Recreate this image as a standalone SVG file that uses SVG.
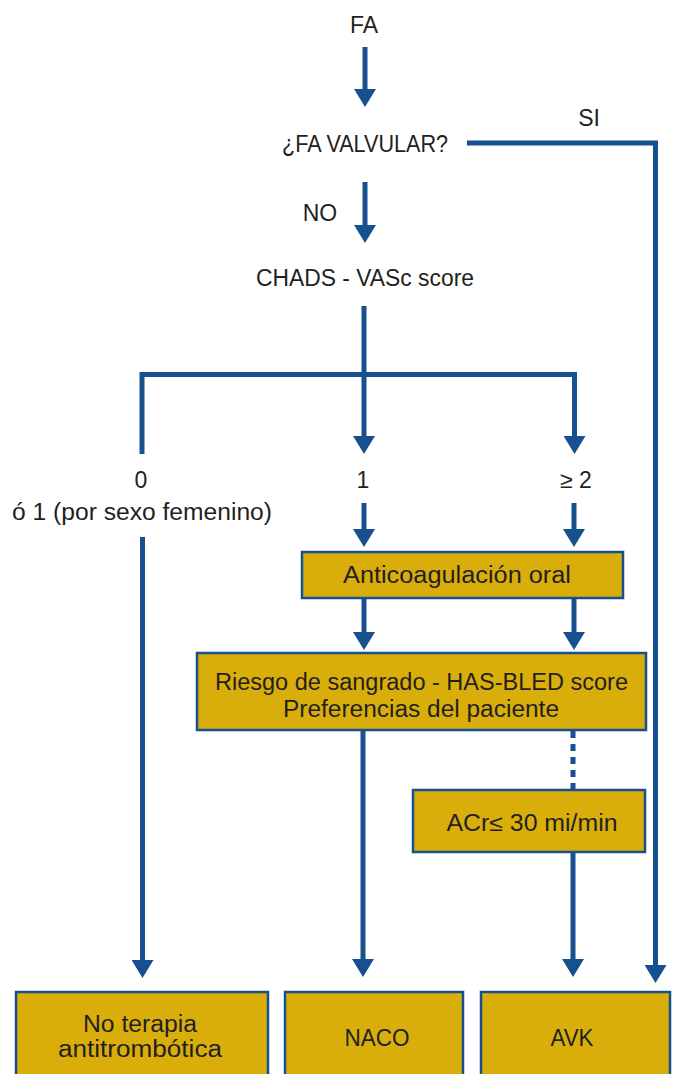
<svg xmlns="http://www.w3.org/2000/svg" width="673" height="1074" viewBox="0 0 673 1074">
<style>
text{font-family:"Liberation Sans",Arial,sans-serif;font-size:23px;fill:#231f20;text-anchor:middle}
.c{fill:none;stroke:#17508e;stroke-width:5;stroke-linejoin:miter}
.d{stroke-dasharray:7 6}
.b{fill:#daae0a;stroke:#17508e;stroke-width:2.5}
</style>
<defs>
<marker id="ah" markerUnits="userSpaceOnUse" markerWidth="18" markerHeight="22" refX="8" refY="11" orient="auto" viewBox="0 0 18 22">
<path d="M0,0 L18,11 L0,22 z" fill="#17508e"/>
</marker>
</defs>
<rect width="673" height="1074" fill="#fff"/>
<g id="connectors">
<path class="c" d="M365,47 V97" marker-end="url(#ah)"/>
<path class="c" d="M467,143 H655.5 V973" marker-end="url(#ah)"/>
<path class="c" d="M365,182 V233" marker-end="url(#ah)"/>
<path class="c" d="M364,306 V444" marker-end="url(#ah)"/>
<path class="c" d="M142,454 V374.5 H574.5 V444" marker-end="url(#ah)"/>
<path class="c" d="M142.5,537 V968" marker-end="url(#ah)"/>
<path class="c" d="M364,503 V537" marker-end="url(#ah)"/>
<path class="c" d="M574,503 V537" marker-end="url(#ah)"/>
<path class="c" d="M364,598 V640" marker-end="url(#ah)"/>
<path class="c" d="M574,598 V640" marker-end="url(#ah)"/>
<path class="c" d="M363,730 V967" marker-end="url(#ah)"/>
<path class="c d" d="M573,731 V789"/>
<path class="c" d="M573,852 V967" marker-end="url(#ah)"/>
</g>
<g id="fa"><text x="364" y="33">FA</text></g>
<g id="valvular"><text x="365" y="152" textLength="166" lengthAdjust="spacingAndGlyphs">¿FA VALVULAR?</text></g>
<g id="si"><text x="589" y="126">SI</text></g>
<g id="no"><text x="320" y="221">NO</text></g>
<g id="chads"><text x="365" y="286" textLength="218" lengthAdjust="spacingAndGlyphs">CHADS - VASc score</text></g>
<g id="cero">
<text x="141" y="488">0</text>
<text x="142" y="520" textLength="260" lengthAdjust="spacingAndGlyphs">ó 1 (por sexo femenino)</text>
</g>
<g id="uno"><text x="363" y="488">1</text></g>
<g id="dos"><text x="576" y="488">≥ 2</text></g>
<g id="anticoag">
<rect class="b" x="302" y="552" width="321" height="46"/>
<text x="457" y="583" textLength="228" lengthAdjust="spacingAndGlyphs">Anticoagulación oral</text>
</g>
<g id="riesgo">
<rect class="b" x="197" y="653" width="449" height="77"/>
<text x="421.5" y="690" textLength="413" lengthAdjust="spacingAndGlyphs">Riesgo de sangrado - HAS-BLED score</text>
<text x="421" y="717" textLength="276" lengthAdjust="spacingAndGlyphs">Preferencias del paciente</text>
</g>
<g id="acr">
<rect class="b" x="413" y="790" width="232" height="62"/>
<text x="532" y="831" textLength="171" lengthAdjust="spacingAndGlyphs">ACr≤ 30 mi/min</text>
</g>
<g id="noterapia">
<rect class="b" x="16" y="992" width="252" height="95"/>
<text x="140" y="1032" textLength="114" lengthAdjust="spacingAndGlyphs">No terapia</text>
<text x="140" y="1057" textLength="164" lengthAdjust="spacingAndGlyphs">antitrombótica</text>
</g>
<g id="naco">
<rect class="b" x="285" y="992" width="178" height="95"/>
<text x="377" y="1046" textLength="65" lengthAdjust="spacingAndGlyphs">NACO</text>
</g>
<g id="avk">
<rect class="b" x="481" y="992" width="189" height="95"/>
<text x="572" y="1046" textLength="43" lengthAdjust="spacingAndGlyphs">AVK</text>
</g>
</svg>
